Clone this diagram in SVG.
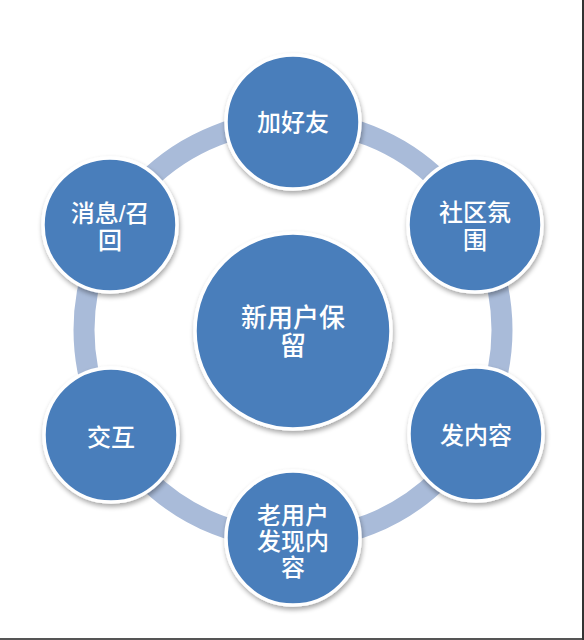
<svg xmlns="http://www.w3.org/2000/svg" width="584" height="640" viewBox="0 0 584 640">
<defs>
<filter id="sh" x="-20%" y="-20%" width="140%" height="140%">
<feGaussianBlur in="SourceAlpha" stdDeviation="2.5"/>
<feOffset dx="1" dy="3" result="b"/>
<feComponentTransfer><feFuncA type="linear" slope="0.35"/></feComponentTransfer>
<feMerge><feMergeNode/><feMergeNode in="SourceGraphic"/></feMerge>
</filter>
</defs>
<style>
.node{fill:#4a7ebb;stroke:#ffffff;stroke-width:3.5;filter:url(#sh)}
.t{fill:#ffffff;font-family:"Liberation Sans","Noto Sans CJK SC",sans-serif;font-size:24px;font-weight:500;text-anchor:middle}
.tc{font-size:26px}
.ring{fill:none;stroke:#a9bbd9;stroke-width:21}
</style>
<rect x="0" y="0" width="584" height="640" fill="#ffffff"/>
<line x1="0" y1="639" x2="584" y2="639" stroke="#555555" stroke-width="2"/>
<line x1="583" y1="0" x2="583" y2="640" stroke="#333333" stroke-width="2"/>
<g id="connectors">
<circle class="ring" cx="293" cy="330" r="209"/>
</g>
<g id="center">
<circle class="node" cx="293" cy="331" r="98"/>
<text class="t tc" x="293" y="327">新用户保</text>
<text class="t tc" x="293" y="355">留</text>
</g>
<g id="n-jiahaoyou">
<circle class="node" cx="293" cy="122" r="67"/>
<text class="t" x="293" y="131">加好友</text>
</g>
<g id="n-shequ">
<circle class="node" cx="475" cy="225" r="67"/>
<text class="t" x="475" y="221">社区氛</text>
<text class="t" x="475" y="249">围</text>
</g>
<g id="n-faneirong">
<circle class="node" cx="476" cy="434" r="67"/>
<text class="t" x="476" y="444">发内容</text>
</g>
<g id="n-laoyonghu">
<circle class="node" cx="293" cy="538" r="67"/>
<text class="t" x="293" y="524">老用户</text>
<text class="t" x="293" y="550">发现内</text>
<text class="t" x="293" y="576">容</text>
</g>
<g id="n-jiaohu">
<circle class="node" cx="111" cy="435" r="67"/>
<text class="t" x="111" y="446">交互</text>
</g>
<g id="n-xiaoxi">
<circle class="node" cx="110" cy="225" r="67"/>
<text class="t" x="110" y="222">消息/召</text>
<text class="t" x="110" y="249">回</text>
</g>
</svg>
